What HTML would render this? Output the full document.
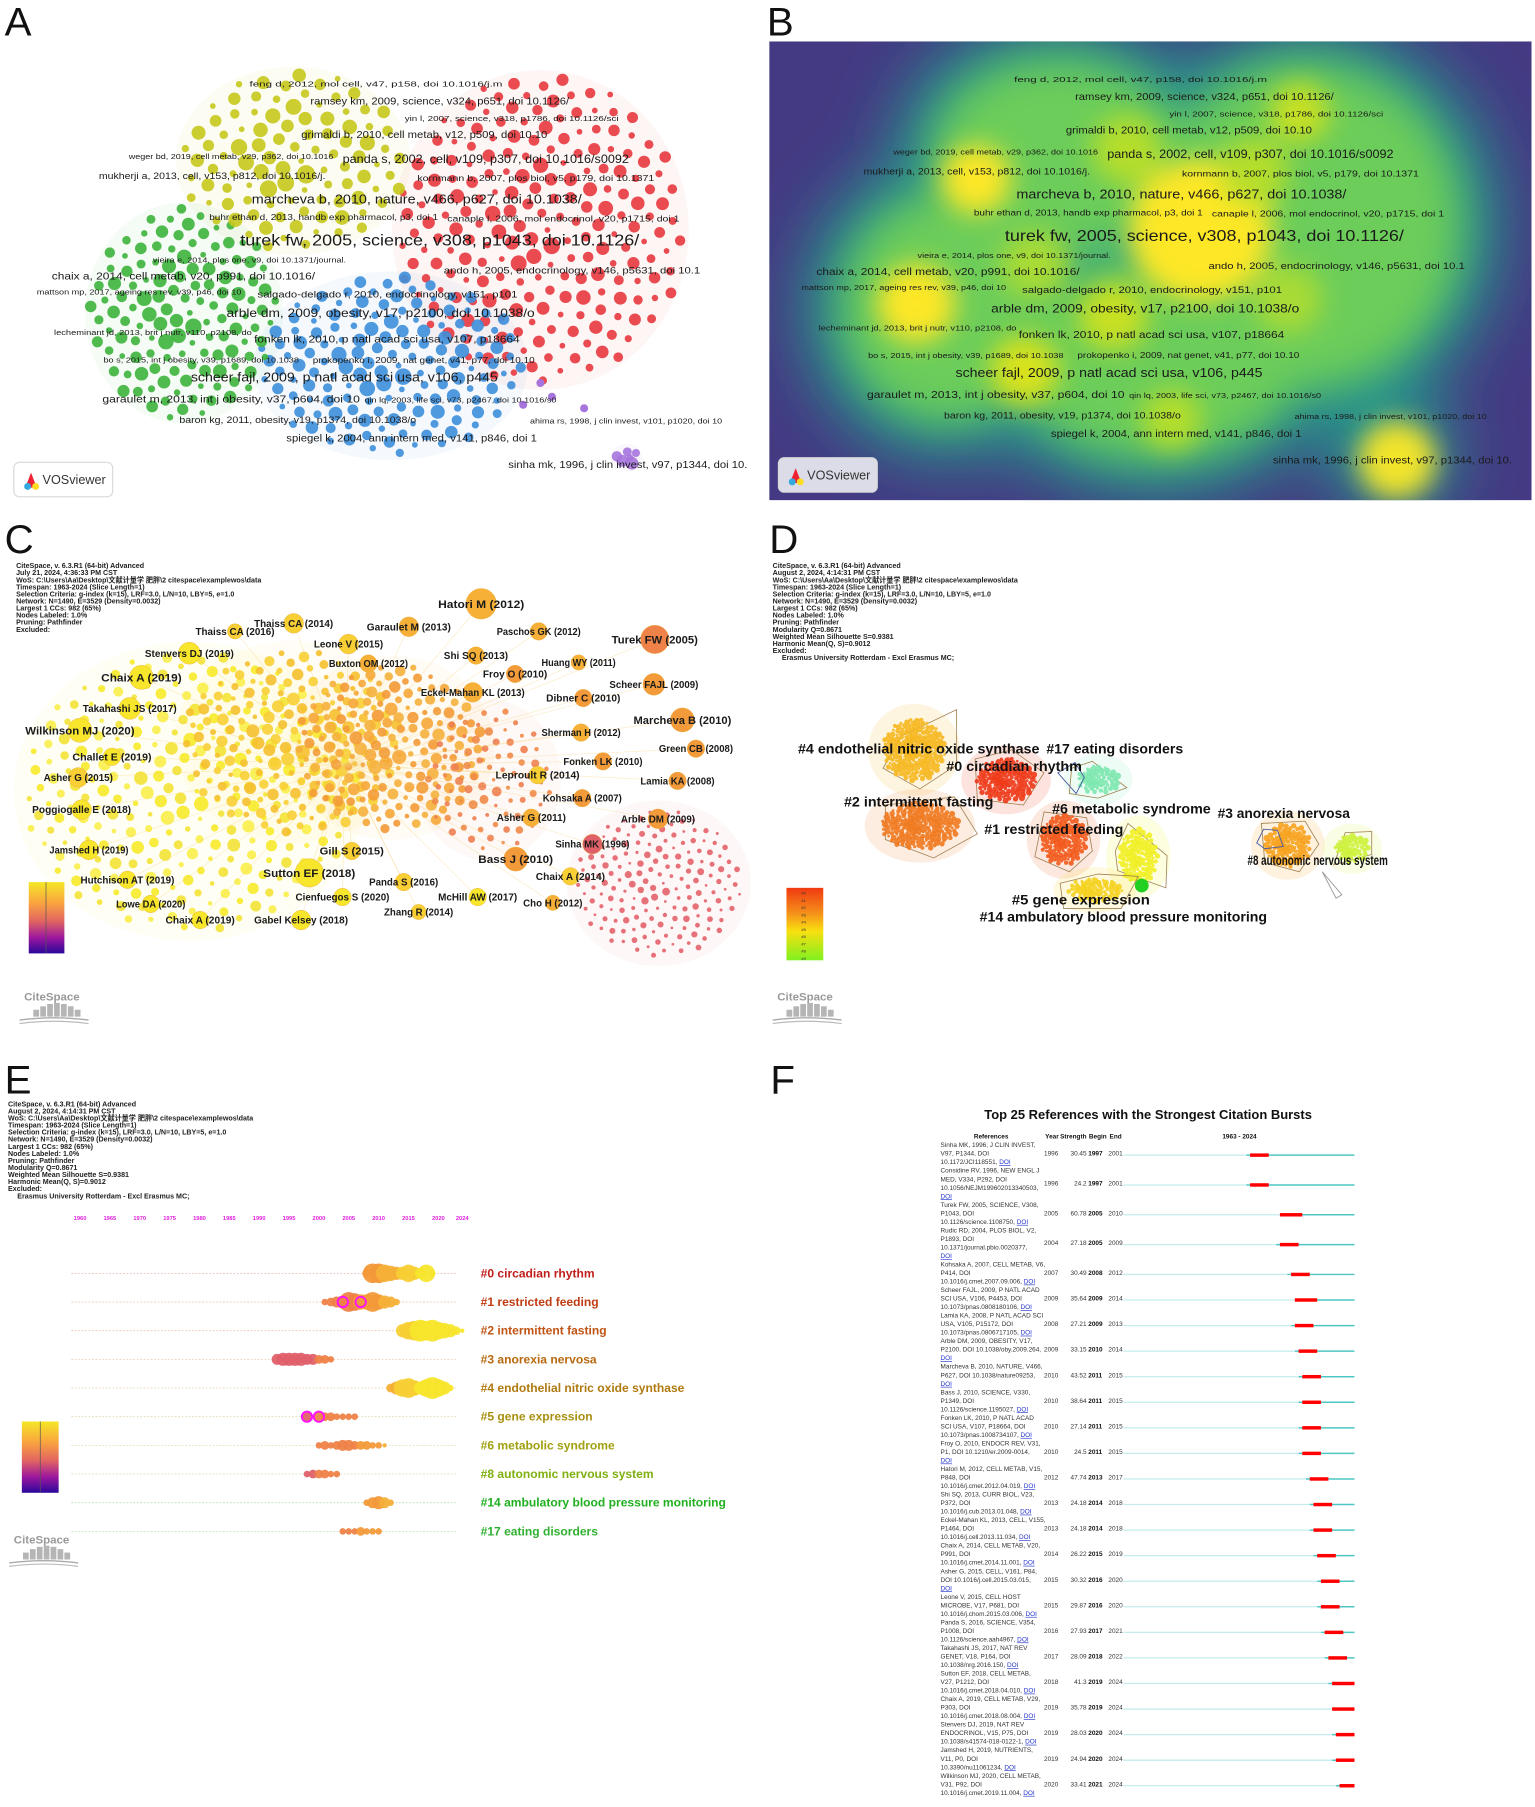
<!DOCTYPE html>
<html><head><meta charset="utf-8">
<style>
html,body{margin:0;padding:0;background:#fff;width:1535px;height:1801px;overflow:hidden}
#wrap{position:absolute;left:0;top:0;width:1335px;height:1566px;transform-origin:0 0;transform:scale(1.14981,1.15006)}
svg text{font-family:"Liberation Sans","Noto Sans CJK SC",sans-serif}
</style></head>
<body>
<div id="wrap">
<svg id="fig" width="1335" height="1566" viewBox="0 0 1335 1566" xmlns="http://www.w3.org/2000/svg">
<defs>
<filter id="blur30" x="-50%" y="-50%" width="200%" height="200%"><feGaussianBlur stdDeviation="28"/></filter>
<filter id="blur18" x="-50%" y="-50%" width="200%" height="200%"><feGaussianBlur stdDeviation="18"/></filter>
<filter id="blur12" x="-50%" y="-50%" width="200%" height="200%"><feGaussianBlur stdDeviation="11"/></filter>
<clipPath id="clipB"><rect x="669" y="36" width="663" height="399"/></clipPath>
<linearGradient id="plasma" x1="0" y1="0" x2="0" y2="1">
<stop offset="0" stop-color="#f5e726"/><stop offset="0.3" stop-color="#f9a240"/><stop offset="0.55" stop-color="#e16462"/><stop offset="0.78" stop-color="#9c179e"/><stop offset="1" stop-color="#2a079b"/></linearGradient>
<linearGradient id="ryg" x1="0" y1="0" x2="0" y2="1">
<stop offset="0" stop-color="#f03a10"/><stop offset="0.35" stop-color="#f5901a"/><stop offset="0.6" stop-color="#f8e010"/><stop offset="1" stop-color="#80f020"/></linearGradient>
</defs>
<g id="gA"></g>
<g id="gB"></g>
<g id="gC"></g>
<g id="gD"></g>
<g id="gE"></g>
<g id="gF"></g>
</svg>
</div>
<script>
// ---------- Panel F data ----------
const burstRefs = [
 ["Sinha MK, 1996, J CLIN INVEST,","V97, P1344, DOI","10.1172/JCI118551, DOI"],
 ["Considine RV, 1996, NEW ENGL J","MED, V334, P292, DOI","10.1056/NEJM199602013340503,","DOI"],
 ["Turek FW, 2005, SCIENCE, V308,","P1043, DOI","10.1126/science.1108750, DOI"],
 ["Rudic RD, 2004, PLOS BIOL, V2,","P1893, DOI","10.1371/journal.pbio.0020377,","DOI"],
 ["Kohsaka A, 2007, CELL METAB, V6,","P414, DOI","10.1016/j.cmet.2007.09.006, DOI"],
 ["Scheer FAJL, 2009, P NATL ACAD","SCI USA, V106, P4453, DOI","10.1073/pnas.0808180106, DOI"],
 ["Lamia KA, 2008, P NATL ACAD SCI","USA, V105, P15172, DOI","10.1073/pnas.0806717105, DOI"],
 ["Arble DM, 2009, OBESITY, V17,","P2100, DOI 10.1038/oby.2009.264,","DOI"],
 ["Marcheva B, 2010, NATURE, V466,","P627, DOI 10.1038/nature09253,","DOI"],
 ["Bass J, 2010, SCIENCE, V330,","P1349, DOI","10.1126/science.1195027, DOI"],
 ["Fonken LK, 2010, P NATL ACAD","SCI USA, V107, P18664, DOI","10.1073/pnas.1008734107, DOI"],
 ["Froy O, 2010, ENDOCR REV, V31,","P1, DOI 10.1210/er.2009-0014,","DOI"],
 ["Hatori M, 2012, CELL METAB, V15,","P848, DOI","10.1016/j.cmet.2012.04.019, DOI"],
 ["Shi SQ, 2013, CURR BIOL, V23,","P372, DOI","10.1016/j.cub.2013.01.048, DOI"],
 ["Eckel-Mahan KL, 2013, CELL, V155,","P1464, DOI","10.1016/j.cell.2013.11.034, DOI"],
 ["Chaix A, 2014, CELL METAB, V20,","P991, DOI","10.1016/j.cmet.2014.11.001, DOI"],
 ["Asher G, 2015, CELL, V161, P84,","DOI 10.1016/j.cell.2015.03.015,","DOI"],
 ["Leone V, 2015, CELL HOST","MICROBE, V17, P681, DOI","10.1016/j.chom.2015.03.006, DOI"],
 ["Panda S, 2016, SCIENCE, V354,","P1008, DOI","10.1126/science.aah4967, DOI"],
 ["Takahashi JS, 2017, NAT REV","GENET, V18, P164, DOI","10.1038/nrg.2016.150, DOI"],
 ["Sutton EF, 2018, CELL METAB,","V27, P1212, DOI","10.1016/j.cmet.2018.04.010, DOI"],
 ["Chaix A, 2019, CELL METAB, V29,","P303, DOI","10.1016/j.cmet.2018.08.004, DOI"],
 ["Stenvers DJ, 2019, NAT REV","ENDOCRINOL, V15, P75, DOI","10.1038/s41574-018-0122-1, DOI"],
 ["Jamshed H, 2019, NUTRIENTS,","V11, P0, DOI","10.3390/nu11061234, DOI"],
 ["Wilkinson MJ, 2020, CELL METAB,","V31, P92, DOI","10.1016/j.cmet.2019.11.004, DOI"]
];
const burstYear = [1996,1996,2005,2004,2007,2009,2008,2009,2010,2010,2010,2010,2012,2013,2013,2014,2015,2015,2016,2017,2018,2019,2019,2019,2020];
const burstStrength = ["30.45","24.2","60.78","27.18","30.49","35.64","27.21","33.15","43.52","38.64","27.14","24.5","47.74","24.18","24.18","26.22","30.32","29.87","27.93","28.09","41.3","35.78","28.03","24.94","33.41"];
const burstBegin = [1997,1997,2005,2005,2008,2009,2009,2010,2011,2011,2011,2011,2013,2014,2014,2015,2016,2016,2017,2018,2019,2019,2020,2020,2021];
const burstEnd = [2001,2001,2010,2009,2012,2014,2013,2014,2015,2015,2015,2015,2017,2018,2018,2019,2020,2020,2021,2022,2024,2024,2024,2024,2024];
const burstRange = [1963,2024];

// ---------- Panel E data ----------
const tlClusters = ["#0 circadian rhythm","#1 restricted feeding","#2 intermittent fasting","#3 anorexia nervosa","#4 endothelial nitric oxide synthase","#5 gene expression","#6 metabolic syndrome","#8 autonomic nervous system","#14 ambulatory blood pressure monitoring","#17 eating disorders"];
const tlYears = [
 [2008,2009,2010,2011,2012,2013,2014,2015,2016,2017,2018,2019],
 [2001,2002,2003,2004,2005,2006,2007,2008,2009,2010,2011,2012,2013],
 [2014,2015,2016,2017,2018,2019,2020,2021,2022,2023,2024],
 [1993,1994,1995,1996,1997,1998,1999,2000,2001,2002],
 [2012,2013,2014,2015,2016,2017,2018,2019,2020,2021,2022],
 [1998,2000,2001,2002,2003,2004,2005,2006],
 [2000,2001,2002,2003,2004,2005,2006,2007,2008,2009,2010,2011],
 [1998,1999,2000,2001,2002,2003],
 [2008,2009,2010,2011,2012],
 [2004,2005,2006,2007,2008,2009,2010]
];
const tlSizes = [
 [4,9,9,8,7,6,6,8,6,5,8,3],
 [3,4,5,6,9,8,7,7,9,7,6,5,3],
 [6,8,9,10,9,10,8,7,6,4,2],
 [5,6,6,6,6,5,5,4,4,3],
 [4,6,8,9,7,6,8,10,8,6,3],
 [5,5,4,4,3,3,3,3],
 [3,4,3,4,5,5,4,4,4,3,3,2],
 [3,4,4,4,3,3],
 [3,5,6,5,3],
 [3,3,3,4,3,3,3]
];
const tlTicks = [1960,1965,1970,1975,1980,1985,1990,1995,2000,2005,2010,2015,2020,2024];
const tlRange = [1960,2024];

// ---------- Panel A/B labels ----------
const vosLabels = ["feng d, 2012, mol cell, v47, p158, doi 10.1016/j.m","ramsey km, 2009, science, v324, p651, doi 10.1126/","yin l, 2007, science, v318, p1786, doi 10.1126/sci","grimaldi b, 2010, cell metab, v12, p509, doi 10.10","weger bd, 2019, cell metab, v29, p362, doi 10.1016","panda s, 2002, cell, v109, p307, doi 10.1016/s0092","mukherji a, 2013, cell, v153, p812, doi 10.1016/j.","kornmann b, 2007, plos biol, v5, p179, doi 10.1371","marcheva b, 2010, nature, v466, p627, doi 10.1038/","buhr ethan d, 2013, handb exp pharmacol, p3, doi 1","canaple l, 2006, mol endocrinol, v20, p1715, doi 1","turek fw, 2005, science, v308, p1043, doi 10.1126/","vieira e, 2014, plos one, v9, doi 10.1371/journal.","chaix a, 2014, cell metab, v20, p991, doi 10.1016/","ando h, 2005, endocrinology, v146, p5631, doi 10.1","mattson mp, 2017, ageing res rev, v39, p46, doi 10","salgado-delgado r, 2010, endocrinology, v151, p101","arble dm, 2009, obesity, v17, p2100, doi 10.1038/o","lecheminant jd, 2013, brit j nutr, v110, p2108, do","fonken lk, 2010, p natl acad sci usa, v107, p18664","bo s, 2015, int j obesity, v39, p1689, doi 10.1038","prokopenko i, 2009, nat genet, v41, p77, doi 10.10","scheer fajl, 2009, p natl acad sci usa, v106, p445","garaulet m, 2013, int j obesity, v37, p604, doi 10","qin lq, 2003, life sci, v73, p2467, doi 10.1016/s0","baron kg, 2011, obesity, v19, p1374, doi 10.1038/o","ahima rs, 1998, j clin invest, v101, p1020, doi 10","spiegel k, 2004, ann intern med, v141, p846, doi 1","sinha mk, 1996, j clin invest, v97, p1344, doi 10."];
const vosWeight = [8,11,8,11,8,13,10,9,14,9,9,17,8,11,10,8,10,13,8,11,8,9,14,11,8,10,8,11,11];

// ---------- Panel C labels ----------
const csLabels = ["Hatori M (2012)","Paschos GK (2012)","Garaulet M (2013)","Thaiss CA (2014)","Thaiss CA (2016)","Turek FW (2005)","Leone V (2015)","Shi SQ (2013)","Buxton OM (2012)","Huang WY (2011)","Stenvers DJ (2019)","Froy O (2010)","Chaix A (2019)","Scheer FAJL (2009)","Eckel-Mahan KL (2013)","Dibner C (2010)","Takahashi JS (2017)","Marcheva B (2010)","Wilkinson MJ (2020)","Sherman H (2012)","Green CB (2008)","Challet E (2019)","Fonken LK (2010)","Leproult R (2014)","Asher G (2015)","Lamia KA (2008)","Kohsaka A (2007)","Poggiogalle E (2018)","Asher G (2011)","Arble DM (2009)","Sinha MK (1996)","Jamshed H (2019)","Gill S (2015)","Bass J (2010)","Sutton EF (2018)","Chaix A (2014)","Hutchison AT (2019)","Panda S (2016)","Cienfuegos S (2020)","McHill AW (2017)","Cho H (2012)","Lowe DA (2020)","Zhang R (2014)","Chaix A (2019)","Gabel Kelsey (2018)"];
const csCitations = [14,8,9,9,7,13,9,8,8,7,10,8,11,10,9,8,10,11,11,8,8,8,8,8,9,8,8,9,8,9,9,9,8,11,13,8,8,8,8,8,7,8,7,8,9];

// ---------- Panel D clusters ----------
const dLabels = ["#4 endothelial nitric oxide synthase","#17 eating disorders","#0 circadian rhythm","#2 intermittent fasting","#6 metabolic syndrome","#3 anorexia nervosa","#1 restricted feeding","#8 autonomic nervous system","#5 gene expression","#14 ambulatory blood pressure monitoring"];
const dSizes = [120,30,160,170,10,110,150,35,40,20];

const NS="http://www.w3.org/2000/svg";
function mk(tag,attrs,parent){const e=document.createElementNS(NS,tag);for(const k in attrs)e.setAttribute(k,attrs[k]);parent.appendChild(e);return e;}
function txt(s,attrs,parent){const e=mk('text',attrs,parent);e.textContent=s;return e;}

const gA=document.getElementById('gA'),gB=document.getElementById('gB'),gC=document.getElementById('gC'),gD=document.getElementById('gD'),gE=document.getElementById('gE'),gF=document.getElementById('gF');

[["A",4,31,gA],["B",667,31,gB],["C",4,481,gC],["D",669,481,gD],["E",4,951,gE],["F",670,951,gF]].forEach(p=>{
 const t=txt(p[0],{x:p[1],y:p[2],'font-size':35,fill:'#111'},p[3]);
 
 
});

function sunflower(c,parent,name){
 const g=mk('g',{},parent);
 
 
 for(let i=0;i<c.n;i++){
  const t=(i+0.5)/c.n, rr=Math.sqrt(t), a=i*2.39996;
  const x=c.cx+rr*c.rx*Math.cos(a), y=c.cy+rr*c.ry*Math.sin(a);
  const r=c.r0+(c.r1-c.r0)*((i*7)%11)/10*(1-0.45*rr);
  const col=c.cols?c.cols[i%c.cols.length]:c.color;
  mk('circle',{cx:x.toFixed(1),cy:y.toFixed(1),r:r.toFixed(1),fill:col,'fill-opacity':c.op||0.9},g);
 }
 return g;
}

// ================= Panel A =================
const aClusters=[
 {name:'cluster-red',cx:470,cy:200,rx:125,ry:135,color:'#e8383f',n:210,r0:2.5,r1:7.5},
 {name:'cluster-blue',cx:340,cy:318,rx:115,ry:78,color:'#3d8fdc',n:150,r0:2.5,r1:7.5},
 {name:'cluster-green',cx:160,cy:272,rx:82,ry:92,color:'#3db53d',n:130,r0:2.5,r1:7.5},
 {name:'cluster-yellow',cx:255,cy:140,rx:98,ry:78,color:'#c6c81c',n:100,r0:2.5,r1:8.5},
 {name:'cluster-purple',cx:545,cy:398,rx:10,ry:8,color:'#a774dd',n:6,r0:3,r1:7}
];
aClusters.forEach(c=>{
 const h=mk('ellipse',{cx:c.cx,cy:c.cy,rx:c.rx+4,ry:c.ry+4,fill:c.color,'fill-opacity':0.05},gA);
 
 
});
aClusters.forEach(c=>sunflower(c,gA,c.name+'-nodes'));
[[470,333],[508,355],[480,345],[455,352]].forEach(p=>{const d=mk('circle',{cx:p[0],cy:p[1],r:3.5,fill:'#a774dd'},gA);
 });
const vosPos=[[217,73,437],[270,88,495],[352,103,538],[262,117,476],[112,136,290],[298,138,547],[86,153,283],[363,155,569],[219,173,506],[182,189,381],[389,190,591],[209,209,556],[133,226,301],[45,240,274],[386,235,609],[32,254,210],[224,256,450],[197,272,465],[47,289,219],[221,295,452],[90,313,260],[272,313,465],[166,328,433],[89,347,313],[317,348,484],[156,365,362],[461,366,628],[249,381,467],[442,404,650]];
function vosText(parent,dx,dy,pref){
 vosLabels.forEach((s,i)=>{
  const p=vosPos[i], fs=vosWeight[i]*0.78;
  const t=txt(s,{x:p[0]+dx,y:p[1]+dy+fs*0.35,'font-size':fs.toFixed(1),fill:'#1a1a1a',textLength:p[2]-p[0],lengthAdjust:'spacingAndGlyphs'},parent);
  
  
 });
}
vosText(gA,0,0,'node');
function vosBadge(parent,x,y,bg){
 const g=mk('g',{},parent);
 
 
 mk('rect',{x:x,y:y,width:86,height:30,rx:5,fill:bg,stroke:'#d8d8d8'},g);
 mk('path',{d:`M${x+10} ${y+22} L${x+15} ${y+9} L${x+20} ${y+22} Z`,fill:'#e23'},g);
 mk('circle',{cx:x+12,cy:y+21,r:3,fill:'#3ad'},g);
 mk('circle',{cx:x+19,cy:y+21,r:3,fill:'#fd2'},g);
 txt('VOSviewer',{x:x+25,y:y+19,'font-size':11,fill:'#333'},g);
}
vosBadge(gA,12,402,'#fff');

// ================= Panel B =================
const bg=mk('g',{'clip-path':'url(#clipB)'},gB);
const bRect=mk('rect',{x:669,y:36,width:663,height:399,fill:'#443a83'},bg);


const bTeal=mk('g',{filter:'url(#blur30)'},bg);
const bGreen=mk('g',{filter:'url(#blur18)'},bg);
const bYel=mk('g',{filter:'url(#blur12)'},bg);
aClusters.forEach(c=>{
 if(c.rx>20){
  mk('ellipse',{cx:c.cx+665,cy:c.cy-4,rx:c.rx+45,ry:c.ry+40,fill:'#26948a'},bTeal);
  mk('ellipse',{cx:c.cx+665,cy:c.cy-4,rx:c.rx+12,ry:c.ry+8,fill:'#6ccd5a'},bGreen);
 } else {
  mk('circle',{cx:c.cx+665,cy:c.cy-4,r:55,fill:'#26948a'},bTeal);
 }
});
[[1044,200,62,'#fde725'],[849,156,30,'#fde725'],[797,264,34,'#fde725'],[1215,400,34,'#f3e42a'],[891,322,30,'#d8e21d'],[1130,98,26,'#c8e020'],[968,275,30,'#c8e020'],[1019,365,26,'#b5de2b'],[980,130,30,'#b5de2b'],[1090,150,30,'#b5de2b'],[1120,260,30,'#a8db34'],[900,230,30,'#a8db34']].forEach(s=>{
 const c=mk('circle',{cx:s[0],cy:s[1],r:s[2],fill:s[3]},bYel);
 
 
});
vosText(gB,665,-4,'density');
vosBadge(gB,677,398,'#dcdce8');

// ================= CiteSpace common =================
function header(parent,x,y,lines,name){
 const g=mk('g',{},parent);
 
 
 lines.forEach((s,i)=>{txt(s,{x:(s.startsWith('    ')?x+8:x),y:y+i*6.15,'font-size':6.2,'font-weight':'bold',fill:'#222'},g);});
}
const hdrBase=["CiteSpace, v. 6.3.R1 (64-bit) Advanced","July 21, 2024, 4:36:33 PM CST","WoS: C:\\Users\\Aa\\Desktop\\文献计量学 肥胖\\2 citespace\\examplewos\\data","Timespan: 1963-2024 (Slice Length=1)","Selection Criteria: g-index (k=15), LRF=3.0, L/N=10, LBY=5, e=1.0","Network: N=1490, E=3529 (Density=0.0032)","Largest 1 CCs: 982 (65%)","Nodes Labeled: 1.0%","Pruning: Pathfinder"];
const hdrC=hdrBase.concat(["Excluded:"]);
const hdrD=hdrBase.slice();hdrD[1]="August 2, 2024, 4:14:31 PM CST";
const hdrD2=hdrD.concat(["Modularity Q=0.8671","Weighted Mean Silhouette S=0.9381","Harmonic Mean(Q, S)=0.9012","Excluded:","    Erasmus University Rotterdam - Excl Erasmus MC;"]);
function citeLogo(parent,x,y){
 const g=mk('g',{},parent);
 
 
 txt('CiteSpace',{x:x+4,y:y,'font-size':10,'font-weight':'bold',fill:'#9a9a9a'},g);
 [[12,6],[18,9],[24,11],[30,12],[36,11],[42,9],[48,6]].forEach(b=>mk('rect',{x:x+b[0],y:y+14-b[1],width:5,height:b[1],fill:'#b5b5b5'},g));
 mk('path',{d:`M${x} ${y+17} Q${x+30} ${y+13} ${x+60} ${y+17}`,stroke:'#aaa','stroke-width':1.2,fill:'none'},g);
 mk('path',{d:`M${x} ${y+20} Q${x+30} ${y+16} ${x+60} ${y+20}`,stroke:'#bbb','stroke-width':1,fill:'none'},g);
}

// ================= Panel C =================
header(gC,14,494,hdrC,'panel-c-metadata');
const cClusters=[
 {name:'red',cx:573,cy:768,rx:72,ry:64,color:'#e4636a',n:170,r0:1.2,r1:3.5},
 {name:'yellow',cx:165,cy:688,rx:145,ry:122,cols:['#f7ea2a','#f3e335','#f9ee4a'],n:270,r0:2,r1:6.5},
 {name:'yellow-orange',cx:255,cy:645,rx:95,ry:80,cols:['#f8cf34','#f6c02d'],n:170,r0:2,r1:6.5},
 {name:'orange',cx:340,cy:650,rx:82,ry:72,cols:['#f6a738','#f39a35','#f5b03b'],n:170,r0:2,r1:6.5},
 {name:'orange-red',cx:425,cy:678,rx:55,ry:62,cols:['#f08a48','#ee7e50'],n:80,r0:1.5,r1:4.5}
];
cClusters.forEach(c=>{
 const h=mk('ellipse',{cx:c.cx,cy:c.cy,rx:c.rx+8,ry:c.ry+8,fill:c.cols?c.cols[0]:c.color,'fill-opacity':0.05},gC);
 
 
});
cClusters.forEach(c=>sunflower(c,gC,'cluster-'+c.name+'-nodes'));
const csPos=[[381,525],[432,549],[319,545],[221,542],[170,549],[532,556],[273,560],[386,570],[286,577],[471,576],[126,568],[420,586],[88,589],[530,595],[366,602],[475,607],[72,616],[551,626],[22,635],[471,637],[573,651],[63,658],[490,662],[431,674],[38,676],[557,679],[472,694],[28,704],[432,711],[540,712],[483,734],[43,739],[278,740],[416,747],[229,759],[466,762],[70,765],[321,767],[257,780],[381,780],[455,785],[101,786],[334,793],[144,800],[221,800]];
function yearColor(y){ if(y>=2017)return '#f7e62c'; if(y>=2014)return '#f8cf34'; if(y>=2011)return '#f6b038'; if(y>=2007)return '#f39a3a'; if(y>=2000)return '#ef8248'; return '#e0606a'; }
const cLinks=mk('g',{},gC);


csLabels.forEach((s,i)=>{
 const p=csPos[i], fs=csCitations[i]>=11?10:8.6, w=s.length*fs*0.5;
 mk('line',{x1:p[0]+w*0.5,y1:p[1],x2:300,y2:665,stroke:'#f5c860','stroke-opacity':0.35,'stroke-width':0.6},cLinks);
});
csLabels.forEach((s,i)=>{
 const p=csPos[i], fs=csCitations[i]>=11?10:8.6, w=s.length*fs*0.5;
 const yr=parseInt(s.match(/\((\d+)\)/)[1]);
 const n=mk('circle',{cx:p[0]+w*0.5,cy:p[1],r:csCitations[i]*0.95,fill:yearColor(yr),stroke:'#eab040','stroke-width':0.4},gC);
 
 
});
csLabels.forEach((s,i)=>{
 const p=csPos[i], fs=csCitations[i]>=11?10:8.6, w=s.length*fs*0.5;
 const t=txt(s,{x:p[0],y:p[1]+fs*0.36,'font-size':fs,'font-weight':'bold',fill:'#1a1a1a',textLength:w.toFixed(1),lengthAdjust:'spacingAndGlyphs'},gC);
 
 
});
const cBar=mk('rect',{x:25,y:767,width:31,height:62,fill:'url(#plasma)'},gC);


mk('line',{x1:40,y1:767,x2:40,y2:829,stroke:'#555','stroke-width':0.6},gC);
citeLogo(gC,17,870);

// ================= Panel D =================
header(gD,672,494,hdrD2,'panel-d-metadata');
const dShapes=[
 {c:[795,652],rx:32,ry:32,col:'#f6b820',poly:'832,617 832,665 800,686 768,668 784,640'},
 {c:[875,678],rx:31,ry:22,col:'#ee3a18',poly:'848,660 880,652 908,672 890,700 850,695'},
 {c:[800,718],rx:40,ry:24,col:'#f07a20',poly:'770,700 830,693 850,725 812,746 770,730'},
 {c:[955,678],rx:22,ry:14,col:'#7ee8b0',poly:'932,668 950,662 980,685 955,694 930,690'},
 {c:[925,730],rx:24,ry:26,col:'#f25a1c',poly:'908,706 945,711 950,740 930,758 900,745'},
 {c:[990,745],rx:20,ry:28,col:'#f1f026',poly:'981,716 1015,744 1014,772 972,757 970,740'},
 {c:[952,774],rx:28,ry:12,col:'#f5d21f',poly:'922,768 955,760 990,762 975,790 925,790'},
 {c:[1120,735],rx:24,ry:22,col:'#f7a21e',poly:'1097,716 1135,714 1147,734 1130,758 1100,750'},
 {c:[1176,738],rx:18,ry:14,col:'#cdf23c',poly:'1170,724 1193,723 1193,743 1160,752'}
];
dShapes.forEach((s,i)=>{
 const g=mk('g',{},gD);
 
 
 mk('ellipse',{cx:s.c[0],cy:s.c[1],rx:s.rx+8,ry:s.ry+8,fill:s.col,'fill-opacity':0.14},g);
 mk('polygon',{points:s.poly,fill:'none',stroke:'#a08050','stroke-width':0.7},g);
 sunflower({cx:s.c[0],cy:s.c[1],rx:s.rx*0.85,ry:s.ry*0.85,color:s.col,n:Math.round(s.rx*s.ry/6),r0:1.2,r1:4},g,'cluster-nodes-'+i);
});
mk('circle',{cx:993,cy:770,r:6,fill:'#22d022'},gD);
mk('path',{d:'M1093 733 L1099 721 L1111 722 L1116 736 L1100 738 Z',fill:'none',stroke:'#4a5aa0','stroke-width':0.8},gD);
mk('path',{d:'M920 672 L935 663 L943 676 L936 690 Z',fill:'none',stroke:'#4a5aa0','stroke-width':0.8},gD);
mk('path',{d:'M1150 758 L1167 778 L1162 781 Z',fill:'none',stroke:'#999','stroke-width':0.8},gD);
const dPos=[[694,651,904],[910,651,1029],[823,666,941],[734,697,864],[915,703,1053],[1059,707,1174],[856,721,977],[1085,748,1207],[880,782,1000],[852,797,1102]];
dLabels.forEach((s,i)=>{
 const p=dPos[i];
 const t=txt(s,{x:p[0],y:p[1]+4.3,'font-size':12,'font-weight':'bold',fill:'#111',textLength:p[2]-p[0],lengthAdjust:'spacingAndGlyphs'},gD);
 
 
});
const dBar=mk('rect',{x:684,y:772,width:32,height:63,fill:'url(#ryg)'},gD);


for(let i=0;i<10;i++){txt('#'+i,{x:697,y:778+i*6.3,'font-size':3.5,fill:'#333'},gD);}
citeLogo(gD,672,870);

// ================= Panel E =================
header(gE,7,962,hdrD2,'panel-e-metadata');
const exScale=y=>69.6+(y-tlRange[0])*(402-69.6)/(tlRange[1]-tlRange[0]);
tlTicks.forEach(y=>{
 const t=txt(String(y),{x:exScale(y),y:1061,'font-size':5,'font-weight':'bold',fill:'#e020e0','text-anchor':'middle'},gE);
 
 
});
const labelCols=['#c01e1a','#c03c14','#c05414','#b86a10','#b07a10','#a89010','#a0a010','#80b010','#20b020','#30b030'];
const rowY=i=>1107.2+i*24.93;
tlClusters.forEach((s,i)=>{
 const y=rowY(i);
 const l=mk('line',{x1:62,y1:y,x2:397,y2:y,stroke:labelCols[i],'stroke-opacity':0.35,'stroke-width':0.7,'stroke-dasharray':'1.5,1.5'},gE);
 
 
 const g=mk('g',{},gE);
 
 
 tlYears[i].forEach((yr,j)=>{
  mk('circle',{cx:exScale(yr).toFixed(1),cy:y,r:tlSizes[i][j]*0.95,fill:yearColor(yr),'fill-opacity':0.95},g);
 });
 const t=txt(s,{x:418,y:y+3.5,'font-size':10.5,'font-weight':'bold',fill:labelCols[i]},gE);
 
 
});
[[1,2004],[1,2007],[5,1998],[5,2000]].forEach(r=>{
 const c=mk('circle',{cx:exScale(r[1]),cy:rowY(r[0]),r:4.5,fill:'none',stroke:'#ff10ff','stroke-width':1.6},gE);
 
 
});
const eBar=mk('rect',{x:19,y:1236,width:32,height:62,fill:'url(#plasma)'},gE);


mk('line',{x1:35,y1:1236,x2:35,y2:1298,stroke:'#555','stroke-width':0.6},gE);
citeLogo(gE,8,1342);

// ================= Panel F =================
const ft=txt('Top 25 References with the Strongest Citation Bursts',{x:856,y:973,'font-size':11.5,'font-weight':'bold',fill:'#111',textLength:285,lengthAdjust:'spacingAndGlyphs'},gF);


[["References",862,'middle'],["Year",909,'start'],["Strength",922,'start'],["Begin",947,'start'],["End",965,'start'],[burstRange[0]+" - "+burstRange[1],1078,'middle']].forEach(h=>{
 const t=txt(h[0],{x:h[1],y:990,'font-size':5.6,'font-weight':'bold',fill:'#111','text-anchor':h[2]},gF);
 
 
});
const bx=y=>977+(y-burstRange[0])*(1178-977)/(burstRange[1]-burstRange[0]+1);
const LH=7.41;
let lineIdx=0;
burstRefs.forEach((lines,i)=>{
 const top=997.5+lineIdx*LH;
 const g=mk('g',{},gF);
 
 
 lines.forEach((s,k)=>{
  const y=top+k*LH;
  if(s==='DOI'){
   txt('DOI',{x:818,y:y,'font-size':5.6,fill:'#2233cc','text-decoration':'underline'},g);
  } else if(s.endsWith(' DOI') && k===lines.length-1){
   const t=txt('',{x:818,y:y,'font-size':5.6,fill:'#333'},g);
   const a=document.createElementNS(NS,'tspan');a.textContent=s.slice(0,-3);t.appendChild(a);
   const b=document.createElementNS(NS,'tspan');b.textContent='DOI';b.setAttribute('fill','#2233cc');b.setAttribute('text-decoration','underline');t.appendChild(b);
  } else {
   txt(s,{x:818,y:y,'font-size':5.6,fill:'#333'},g);
  }
 });
 const vy=top+(lines.length-1)/2*LH;
 txt(String(burstYear[i]),{x:908,y:vy,'font-size':5.6,fill:'#333'},g);
 txt(burstStrength[i],{x:945,y:vy,'font-size':5.6,fill:'#333','text-anchor':'end'},g);
 txt(String(burstBegin[i]),{x:946.5,y:vy,'font-size':5.6,'font-weight':'bold',fill:'#111'},g);
 txt(String(burstEnd[i]),{x:964,y:vy,'font-size':5.6,fill:'#333'},g);
 const ly=vy-0.5;
 const l1=mk('line',{x1:bx(burstRange[0]),y1:ly,x2:bx(burstYear[i]),y2:ly,stroke:'#c4ecec','stroke-width':1.1},g);
 
 
 const l2=mk('line',{x1:bx(burstYear[i]),y1:ly,x2:bx(burstRange[1]+1),y2:ly,stroke:'#4ec6c4','stroke-width':1.3},g);
 
 
 const r=mk('rect',{x:bx(burstBegin[i]),y:ly-1.5,width:bx(burstEnd[i]+1)-bx(burstBegin[i]),height:3,fill:'#ff0000'},g);
 
 
 lineIdx+=lines.length;
});
</script>
</body></html>
